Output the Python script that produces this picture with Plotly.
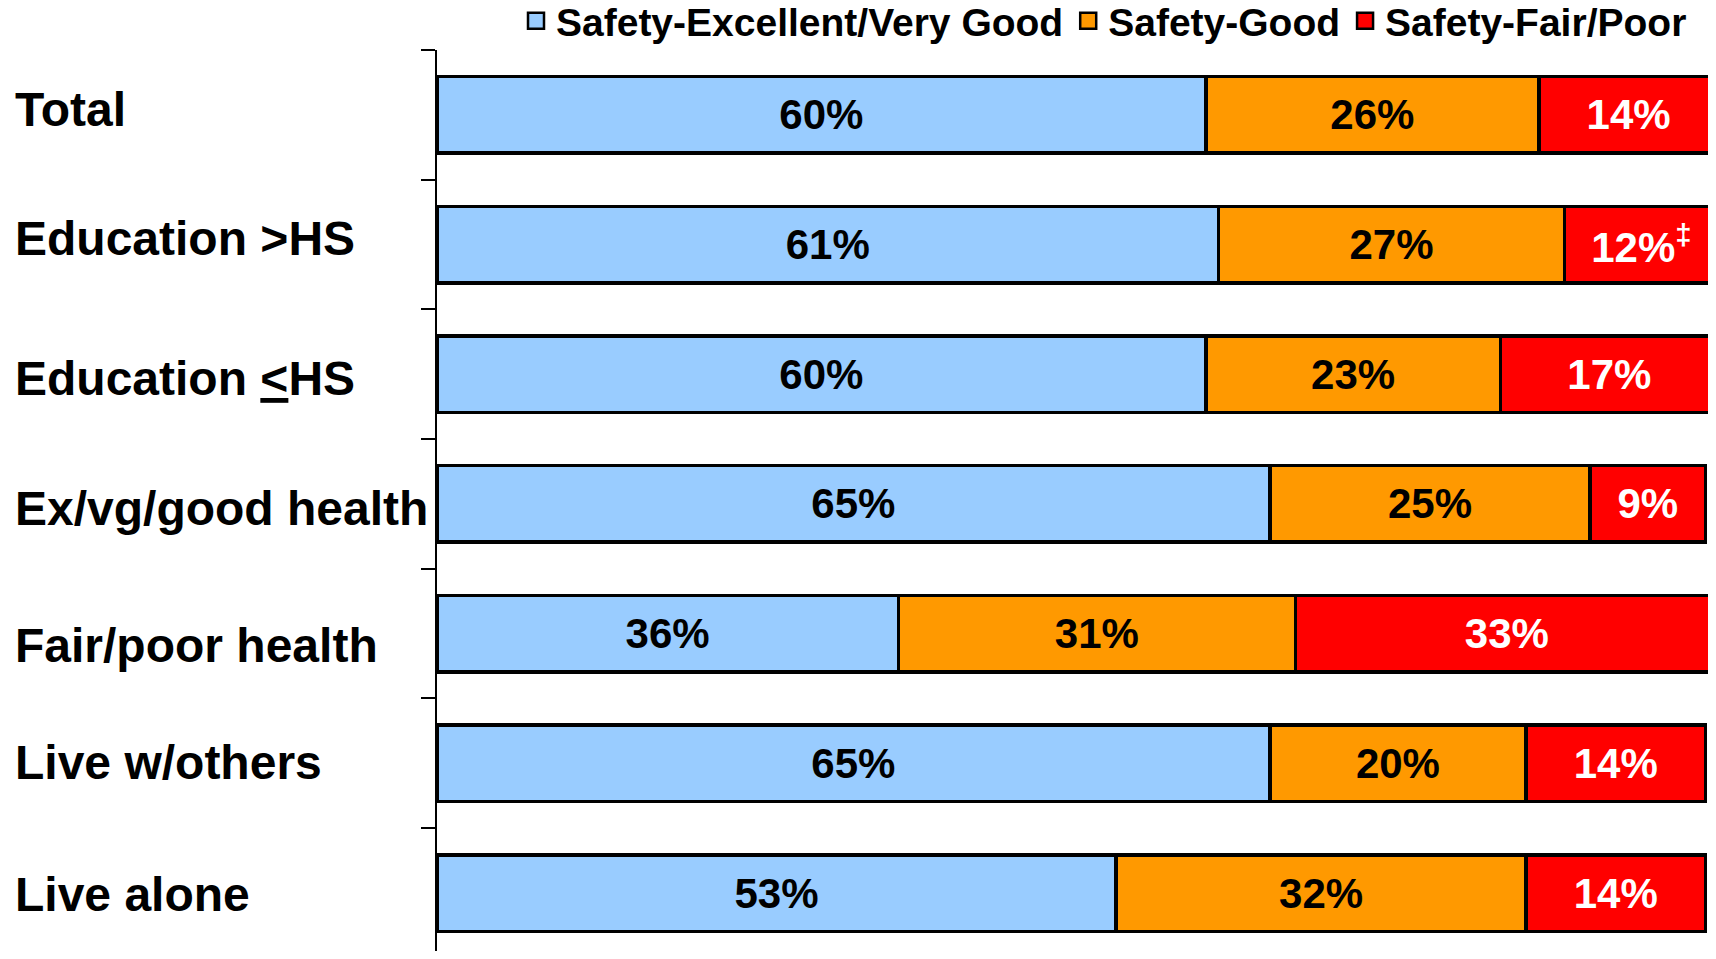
import plotly.graph_objects as go

# Groups (top to bottom) and safety-rating shares, percent
categories = ["Total", "Education &gt;HS", "Education <u>&lt;</u>HS", "Ex/vg/good health",
              "Fair/poor health", "Live w/others", "Live alone"]
excellent = [60, 61, 60, 65, 36, 65, 53]
good = [26, 27, 23, 25, 31, 20, 32]
fair_poor = [14, 12, 17, 9, 33, 14, 14]
fair_poor_notes = ["", "‡", "", "", "", "", ""]
series_names = ["Safety-Excellent/Very Good", "Safety-Good", "Safety-Fair/Poor"]

BLUE = "#99CCFF"
ORANGE = "#FF9900"
RED = "#FF0000"
FONT = "Liberation Sans, Arial, sans-serif"

# page body has an 8px margin, so keep the figure inside the window
W, H = 1700, 943
ML, MR, MT, MB = 429, 0, 42, 0

# nudges for the left-hand labels (px, up is positive)
label_shift = [5, 6, -4, -5, -12, 1, -1]


def pct(vals, notes=None):
    out = []
    for i, v in enumerate(vals):
        s = f"{v}%"
        if notes and notes[i]:
            s += f"<sup>{notes[i]}</sup>"
        out.append(s)
    return out


fig = go.Figure()
series = [
    (series_names[0], excellent, BLUE, "black", None),
    (series_names[1], good, ORANGE, "black", None),
    (series_names[2], fair_poor, RED, "white", fair_poor_notes),
]
for name, vals, color, txtcol, notes in series:
    fig.add_trace(go.Bar(
        name=name, y=categories, x=vals, orientation="h", showlegend=False,
        marker=dict(color=color, line=dict(color="black", width=3.5)),
        text=pct(vals, notes), textposition="inside", insidetextanchor="middle",
        textangle=0, constraintext="none",
        textfont=dict(family=FONT, size=42, color=txtcol, weight="bold"),
        hoverinfo="x+y",
    ))

# legend entries with bigger square swatches than bar legends allow
for name, vals, color, txtcol, notes in series:
    fig.add_trace(go.Scatter(
        name=name, x=[None], y=[None], mode="markers", showlegend=True,
        marker=dict(symbol="square", size=16, color=color,
                    line=dict(color="black", width=2.5)),
    ))

for cat, dy in zip(categories, label_shift):
    fig.add_annotation(
        x=-(ML - 5) / (W - ML - MR), xref="paper", xanchor="left",
        y=cat, yref="y", yshift=dy, showarrow=False,
        text=f"<b>{cat}</b>",
        font=dict(family=FONT, size=48, color="black"),
    )

fig.update_layout(
    width=W, height=H,
    margin=dict(l=ML, r=MR, t=MT, b=MB, autoexpand=False),
    barmode="stack", bargap=0.41,
    plot_bgcolor="white", paper_bgcolor="white",
    font=dict(family=FONT, color="black"),
    legend=dict(
        orientation="h", xref="container", x=1684 / W, xanchor="right",
        yref="container", y=1 - 13 / H, yanchor="middle",
        font=dict(family=FONT, size=39, weight="bold"),
        bgcolor="rgba(0,0,0,0)", traceorder="normal",
    ),
)
fig.update_xaxes(range=[0, 99.2], visible=False)
fig.update_yaxes(
    range=[6.447, -0.5], tickson="boundaries", showticklabels=False,
    ticks="outside", ticklen=14, tickwidth=2, tickcolor="black",
    showline=True, linecolor="black", linewidth=2, showgrid=False, zeroline=False,
)

fig.write_html("out.html")
